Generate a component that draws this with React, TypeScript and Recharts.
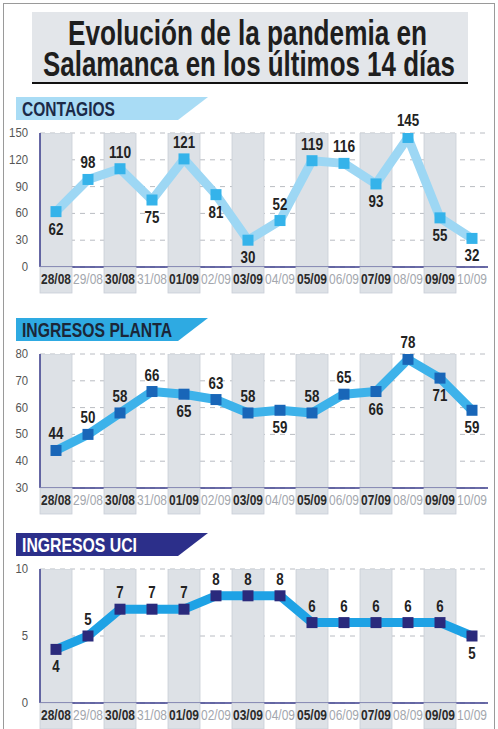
import React from 'react'
import { ComposedChart, Bar, Line, XAxis, YAxis, CartesianGrid, LabelList } from 'recharts'

const dates = ['28/08', '29/08', '30/08', '31/08', '01/09', '02/09', '03/09', '04/09', '05/09', '06/09', '07/09', '08/09', '09/09', '10/09']
const contagios = [62, 98, 110, 75, 121, 81, 30, 52, 119, 116, 93, 145, 55, 32]
const planta = [44, 50, 58, 66, 65, 63, 58, 59, 58, 65, 66, 78, 71, 59]
const uci = [4, 5, 7, 7, 7, 8, 8, 8, 6, 6, 6, 6, 6, 5]
// label above (u) or below (d) the point
const contagiosPos = ['d', 'u', 'u', 'd', 'u', 'd', 'd', 'u', 'u', 'u', 'd', 'u', 'd', 'd']
const plantaPos = ['u', 'u', 'u', 'u', 'd', 'u', 'u', 'd', 'u', 'u', 'd', 'u', 'd', 'd']
const uciPos = ['d', 'u', 'u', 'u', 'u', 'u', 'u', 'u', 'u', 'u', 'u', 'u', 'u', 'd']
const contagiosTicks = [0, 30, 60, 90, 120, 150]
const plantaTicks = [30, 40, 50, 60, 70, 80]
const uciTicks = [0, 5, 10]

const FONT = '"Liberation Sans", Arial, Helvetica, sans-serif'
const BAND = '#dde1e6'
const BAND_EDGE = '#c9ced6'
const AXIS = '#3b3d8c'
const TOPPAD = 30

function Panel({ title, titleW, banner, titleColor, values, pos, ticks, line, marker, top }: any) {
  const min = ticks[0]
  const max = ticks[ticks.length - 1]
  const data = dates.map((d, i) => ({ date: d, value: values[i], band: i % 2 === 0 ? max : null }))

  const xTick = (p: any) => {
    const i = dates.indexOf(p.payload.value)
    const even = i % 2 === 0
    return (
      <g>
        {even && <rect x={p.x - 16} y={p.y} width={32} height={26} fill={BAND} stroke={BAND_EDGE} strokeWidth={0.8} />}
        <text x={p.x} y={p.y + 17} textAnchor="middle" fontFamily={FONT} fontSize={15}
          fontWeight={even ? 700 : 400} fill={even ? '#2b2b2b' : '#a3a7ae'}
          textLength={30} lengthAdjust="spacingAndGlyphs">{p.payload.value}</text>
      </g>
    )
  }

  const yTick = (p: any) => {
    const s = String(p.payload.value)
    return (
      <text x={p.x} y={p.y + 4} textAnchor="end" fontFamily={FONT} fontSize={13} fill="#555"
        textLength={s.length * 6.3} lengthAdjust="spacingAndGlyphs">{s}</text>
    )
  }

  const dot = (p: any) => (
    <rect key={p.index} x={p.cx - 5.5} y={p.cy - 5.5} width={11} height={11} fill={marker} />
  )

  const label = (p: any) => {
    const up = pos[p.index] === 'u'
    const s = String(p.value)
    return (
      <text x={p.x} y={up ? p.y - 11 : p.y + 23} textAnchor="middle" fontFamily={FONT}
        fontSize={17} fontWeight={700} fill="#222"
        textLength={s.length * 7.4} lengthAdjust="spacingAndGlyphs">{s}</text>
    )
  }

  return (
    <>
      <svg style={{ position: 'absolute', left: 0, top: top - 37 }} width={220} height={26}>
        <polygon points="16,1 208,1 178,24 16,24" fill={banner} />
        <text x={22} y={20} fontFamily={FONT} fontWeight={700} fontSize={20} fill={titleColor}
          textLength={titleW} lengthAdjust="spacingAndGlyphs">{title}</text>
      </svg>
      <div style={{ position: 'absolute', left: 0, top: top - TOPPAD }}>
        <ComposedChart width={498} height={TOPPAD + 134 + 30 + 2} data={data}
          margin={{ top: TOPPAD, right: 10, bottom: 2, left: 0 }} barCategoryGap={0}>
          <XAxis dataKey="date" height={30} tick={xTick} tickLine={false} tickSize={0} tickMargin={0}
            axisLine={{ stroke: AXIS, strokeWidth: 1.5 }} interval={0} />
          <YAxis width={40} domain={[min, max]} ticks={ticks} allowDataOverflow tickLine={false}
            axisLine={{ stroke: AXIS, strokeWidth: 1.5 }} tick={yTick} tickMargin={6} />
          <Bar dataKey="band" fill={BAND} stroke={BAND_EDGE} strokeWidth={0.8} isAnimationActive={false} />
          <CartesianGrid vertical={false} stroke="#b9bcc2" strokeDasharray="5 5" />
          <Line dataKey="value" stroke={line} strokeWidth={9} strokeLinejoin="round" dot={dot}
            activeDot={false} isAnimationActive={false}>
            <LabelList dataKey="value" content={label} />
          </Line>
        </ComposedChart>
      </div>
    </>
  )
}

export default function App() {
  return (
    <div style={{ position: 'fixed', left: 0, top: 0, width: 498, height: 729, background: '#fff', overflow: 'hidden' }}>
      <div style={{ position: 'absolute', left: 3, top: 3, width: 490, height: 740, border: '1px solid #9a9a9a' }} />
      <svg style={{ position: 'absolute', left: 0, top: 0 }} width={498} height={90}>
        <rect x={32} y={12} width={436} height={71} fill="#e3e6ea" />
        <rect x={32} y={82} width={436} height={2} fill="#111" />
        <text x={68} y={45} fontFamily={FONT} fontWeight={700} fontSize={35} fill="#1e1e1e"
          textLength={359} lengthAdjust="spacingAndGlyphs">Evolución de la pandemia en</text>
        <text x={43} y={76} fontFamily={FONT} fontWeight={700} fontSize={35} fill="#1e1e1e"
          textLength={412} lengthAdjust="spacingAndGlyphs">Salamanca en los últimos 14 días</text>
      </svg>
      <Panel title="CONTAGIOS" titleW={93} banner="#a9dcf5" titleColor="#1b2a48" values={contagios}
        pos={contagiosPos} ticks={contagiosTicks} line="#9dd7f4" marker="#35b3ea" top={133} />
      <Panel title="INGRESOS PLANTA" titleW={150} banner="#2eaae2" titleColor="#1b2638" values={planta}
        pos={plantaPos} ticks={plantaTicks} line="#3db2ea" marker="#1966b8" top={354} />
      <Panel title="INGRESOS UCI" titleW={115} banner="#2c2f8a" titleColor="#ffffff" values={uci}
        pos={uciPos} ticks={uciTicks} line="#1ea2e5" marker="#2a2a7c" top={569} />
    </div>
  )
}
